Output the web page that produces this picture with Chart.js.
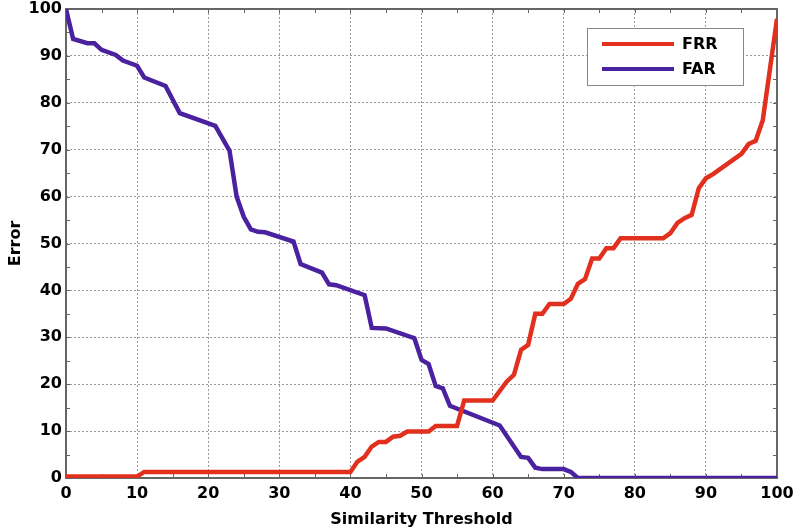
<!DOCTYPE html>
<html>
<head>
<meta charset="utf-8">
<script src="https://cdn.jsdelivr.net/npm/chart.js@4"></script>
<style>
  html, body { margin: 0; padding: 0; background: #fff; }
</style>
</head>
<body>
<canvas id="c" width="796" height="531"></canvas>
<script>
// FRR / FAR breakpoints (threshold, error %)
const frrX = [0, 10, 11, 40, 41, 42, 43, 44, 45, 46, 47, 48, 51, 52, 55, 56, 60, 62, 63, 64, 65, 66, 67, 68, 70, 71, 72, 73, 74, 75, 76, 77, 78, 84, 85, 86, 87, 88, 89, 90, 91, 95, 96, 97, 98, 100];
const frrY = [0.3, 0.3, 1.3, 1.3, 3.5, 4.5, 6.7, 7.7, 7.7, 8.8, 9, 9.9, 9.9, 11.1, 11.1, 16.5, 16.5, 20.6, 22, 27.3, 28.4, 35, 35, 37.1, 37.1, 38.2, 41.4, 42.4, 46.8, 46.8, 49, 49, 51.1, 51.1, 52.2, 54.4, 55.4, 56.1, 61.8, 63.9, 64.8, 69.1, 71.2, 71.9, 76.3, 97.9];

const farX = [0, 1, 3, 4, 5, 7, 8, 10, 11, 14, 16, 21, 23, 24, 25, 26, 27, 28, 32, 33, 36, 37, 38, 42, 43, 45, 49, 50, 51, 52, 53, 54, 61, 64, 65, 66, 67, 70, 71, 72, 100];
const farY = [100, 93.6, 92.7, 92.7, 91.3, 90.2, 89, 87.9, 85.4, 83.6, 77.8, 75.1, 69.8, 60, 55.7, 53, 52.5, 52.4, 50.4, 45.6, 43.8, 41.3, 41.1, 39, 32, 31.9, 29.8, 25.2, 24.3, 19.6, 19.1, 15.4, 11.2, 4.5, 4.3, 2.2, 1.9, 1.9, 1.3, 0, 0];

const seriesNames = ['FRR', 'FAR'];
const seriesColors = ['#e2301e', '#4a22a0'];

const FONT = 'DejaVu Sans';

function pts(xs, ys) {
    return xs.map((x, i) => ({ x: x, y: ys[i] }));
}

// box + inward ticks on all four sides
const framePlugin = {
    id: 'frame',
    beforeDatasetsDraw(chart) {
        const { ctx, chartArea: a, scales } = chart;
        ctx.save();
        ctx.strokeStyle = '#666';
        ctx.lineWidth = 1;
        ctx.beginPath();
        for (const t of scales.x.ticks) {
            const px = Math.round(scales.x.getPixelForValue(t.value)) + 0.5;
            ctx.moveTo(px, a.bottom); ctx.lineTo(px, a.bottom - 4);
            ctx.moveTo(px, a.top); ctx.lineTo(px, a.top + 4);
        }
        for (const t of scales.y.ticks) {
            const py = Math.round(scales.y.getPixelForValue(t.value)) + 0.5;
            ctx.moveTo(a.left, py); ctx.lineTo(a.left + 4, py);
            ctx.moveTo(a.right, py); ctx.lineTo(a.right - 4, py);
        }
        ctx.stroke();
        ctx.lineWidth = 2;
        ctx.strokeRect(a.left, a.top, a.right - a.left, a.bottom - a.top);
        ctx.restore();
    }
};

const boxLegend = {
    id: 'boxLegend',
    afterDraw(chart) {
        const { ctx, chartArea: a } = chart;
        const bx = a.right - 190, by = a.top + 19, bw = 156, bh = 57;
        ctx.save();
        ctx.fillStyle = '#fff';
        ctx.fillRect(bx, by, bw, bh);
        ctx.strokeStyle = '#888';
        ctx.lineWidth = 1;
        ctx.strokeRect(bx + 0.5, by + 0.5, bw, bh);
        ctx.font = 'bold 16px "' + FONT + '"';
        ctx.textBaseline = 'middle';
        chart.data.datasets.forEach((ds, i) => {
            const ly = by + 16 + i * 25;
            ctx.strokeStyle = ds.borderColor;
            ctx.lineWidth = 4;
            ctx.beginPath();
            ctx.moveTo(bx + 15, ly);
            ctx.lineTo(bx + 87, ly);
            ctx.stroke();
            ctx.fillStyle = '#000';
            ctx.fillText(ds.label, bx + 95, ly + 1);
        });
        ctx.restore();
    }
};

const gridColor = ctx => (ctx.tick && ctx.tick.value % 10 === 0) ? '#9a9a9a' : 'rgba(0,0,0,0)';
const tenLabel = v => (v % 10 === 0 ? v : '');

const cfg = {
    type: 'line',
    data: {
        datasets: [
        {
            label: seriesNames[0],
            data: pts(frrX, frrY),
            borderColor: seriesColors[0],
            backgroundColor: seriesColors[0],
            borderWidth: 4.5,
            pointRadius: 0,
            tension: 0,
        },
        {
            label: seriesNames[1],
            data: pts(farX, farY),
            borderColor: seriesColors[1],
            backgroundColor: seriesColors[1],
            borderWidth: 4.5,
            pointRadius: 0,
            tension: 0,
        },
        ],
    },
    options: {
        responsive: false,
        animation: false,
        devicePixelRatio: 1,
        layout: { padding: { top: 9, right: 19, left: 0, bottom: 0 } },
        plugins: {
            legend: { display: false },
            tooltip: { enabled: false },
        },
        scales: {
            x: {
                type: 'linear',
                min: 0,
                max: 100,
                afterFit: s => { s.height = 53; s.paddingLeft = 0; s.paddingRight = 0; },
                ticks: {
                    stepSize: 5,
                    autoSkip: false,
                    maxRotation: 0,
                    callback: tenLabel,
                    color: '#000',
                    padding: 6,
                    font: { family: FONT, size: 16, weight: 'bold' },
                },
                grid: { color: gridColor, drawTicks: false, lineWidth: 1 },
                border: { display: false, dash: [2, 2] },
                title: {
                    display: true,
                    text: 'Similarity Threshold',
                    color: '#000',
                    font: { family: FONT, size: 16, weight: 'bold', lineHeight: 1.2 },
                    padding: { top: 0, bottom: 2 },
                },
            },
            y: {
                type: 'linear',
                min: 0,
                max: 100,
                afterFit: s => { s.width = 66; s.paddingTop = 0; s.paddingBottom = 0; },
                ticks: {
                    stepSize: 5,
                    autoSkip: false,
                    callback: tenLabel,
                    color: '#000',
                    padding: 4,
                    font: { family: FONT, size: 16, weight: 'bold' },
                },
                grid: { color: gridColor, drawTicks: false, lineWidth: 1 },
                border: { display: false, dash: [2, 2] },
                title: {
                    display: true,
                    text: 'Error',
                    color: '#000',
                    font: { family: FONT, size: 16, weight: 'bold', lineHeight: 1.2 },
                    padding: { top: 6, bottom: 0 },
                },
            },
        },
    },
    plugins: [framePlugin, boxLegend],
};

new Chart(document.getElementById('c'), cfg);
</script>
</body>
</html>
